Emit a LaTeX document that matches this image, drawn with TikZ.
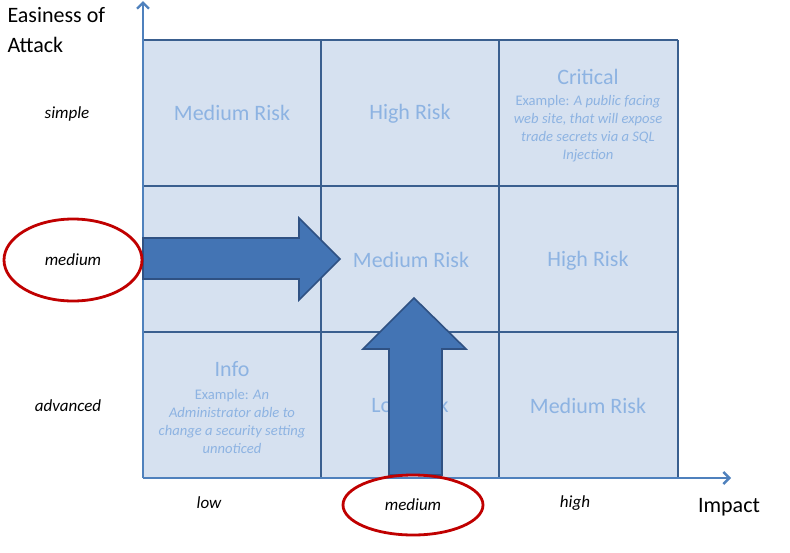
\documentclass[tikz,border=0pt]{standalone}
\usepackage{fontspec}
\setmainfont{Carlito}
\usepackage{tikz}
\usetikzlibrary{arrows.meta}
\usetikzlibrary{positioning}
\definecolor{cellfill}{HTML}{D6E1F0}
\definecolor{gridline}{HTML}{3A5F8F}
\definecolor{axisblue}{HTML}{4F81BD}
\definecolor{risktext}{HTML}{8DB3E2}
\definecolor{bigarrow}{HTML}{4374B4}
\definecolor{bigedge}{HTML}{2F5183}
\definecolor{ringred}{HTML}{C00000}
\tikzset{axis/.style = {draw=axisblue, line width=2.4pt, -{Straight Barb[length=6pt, width=12pt, line width=2.4pt]}}}
\tikzset{risk/.style = {text=risktext, font=\fontsize{22}{26}\selectfont}}
\tikzset{example/.style = {text=risktext, font=\fontsize{14.6}{18}\selectfont, align=center, inner sep=0}}
\tikzset{level/.style = {font=\fontsize{17}{20}\selectfont\itshape}}
\tikzset{axislabel/.style = {font=\fontsize{22}{30}\selectfont, align=left}}
\tikzset{ring/.style = {draw=ringred, line width=2.8pt}}
\tikzset{blockarrow/.style = {fill=bigarrow, draw=bigedge, line width=1.6pt, line join=miter}}

\begin{document}
\begin{tikzpicture}[x=1pt, y=-1pt]
    \useasboundingbox (0, 0) rectangle (790, 552);

    \fill [cellfill] (143, 40) rectangle (678, 478);
    \foreach \gx in {321, 499, 678}
      \draw [gridline, line width=2pt] (\gx, 40) -- (\gx, 478);
    \foreach \gy in {40, 186, 332}
      \draw [gridline, line width=2pt] (143, \gy) -- (678, \gy);

    \coordinate (origin) at (143, 478);
    \coordinate (ytip) at (143, 1);
    \coordinate (xtip) at (731, 478);
    \draw [axis] (origin) -- (ytip);
    \draw [axis] (origin) -- (xtip);

    \node [axislabel, anchor=north west] (easiness) at (4, 4) {Easiness of\\Attack};
    \node [axislabel] (impact) at (729, 507) {Impact};

    \node [level] (simple) at (67, 114) {simple};
    \node [level] (mediumy) at (73, 260) {medium};
    \node [level] (advanced) at (68, 406) {advanced};
    \node [level] (low) at (209, 503) {low};
    \node [level] (mediumx) at (413, 505) {medium};
    \node [level] (high) at (575, 503) {high};

    \node [risk] (simplelow) at (232, 113) {Medium Risk};
    \node [risk] (simplemed) at (410, 114) {High Risk};
    \node [risk] (critical) at (588, 77) {Critical};
    \node [example] (critex) at (588, 129) {Example: \textit{A public facing}\\\textit{web site, that will expose}\\\textit{trade secrets via a SQL}\\\textit{Injection}};

    \node [risk] (medmed) at (411, 260) {Medium Risk};
    \node [risk] (medhigh) at (588, 261) {High Risk};

    \node [risk] (info) at (232, 369) {Info};
    \node [example] (infoex) at (232, 421) {Example: \textit{An}\\\textit{Administrator able to}\\\textit{change a security setting}\\\textit{unnoticed}};
    \node [risk] (advmed) at (410, 405) {Low Risk};
    \node [risk] (advhigh) at (588, 406) {Medium Risk};

    % the two big arrows
    \draw [blockarrow] (143, 238) -- (299, 238) -- (299, 218) -- (340, 259) -- (299, 300) -- (299, 279) -- (143, 279) -- cycle;
    \draw [blockarrow] (389, 475) -- (389, 349) -- (363, 349) -- (414, 298) -- (466, 349) -- (442, 349) -- (442, 475) -- cycle;

    \draw [ring] (mediumy) ellipse [x radius=69, y radius=41];
    \draw [ring] (mediumx) ellipse [x radius=70, y radius=30];
  \end{tikzpicture}
\end{document}
